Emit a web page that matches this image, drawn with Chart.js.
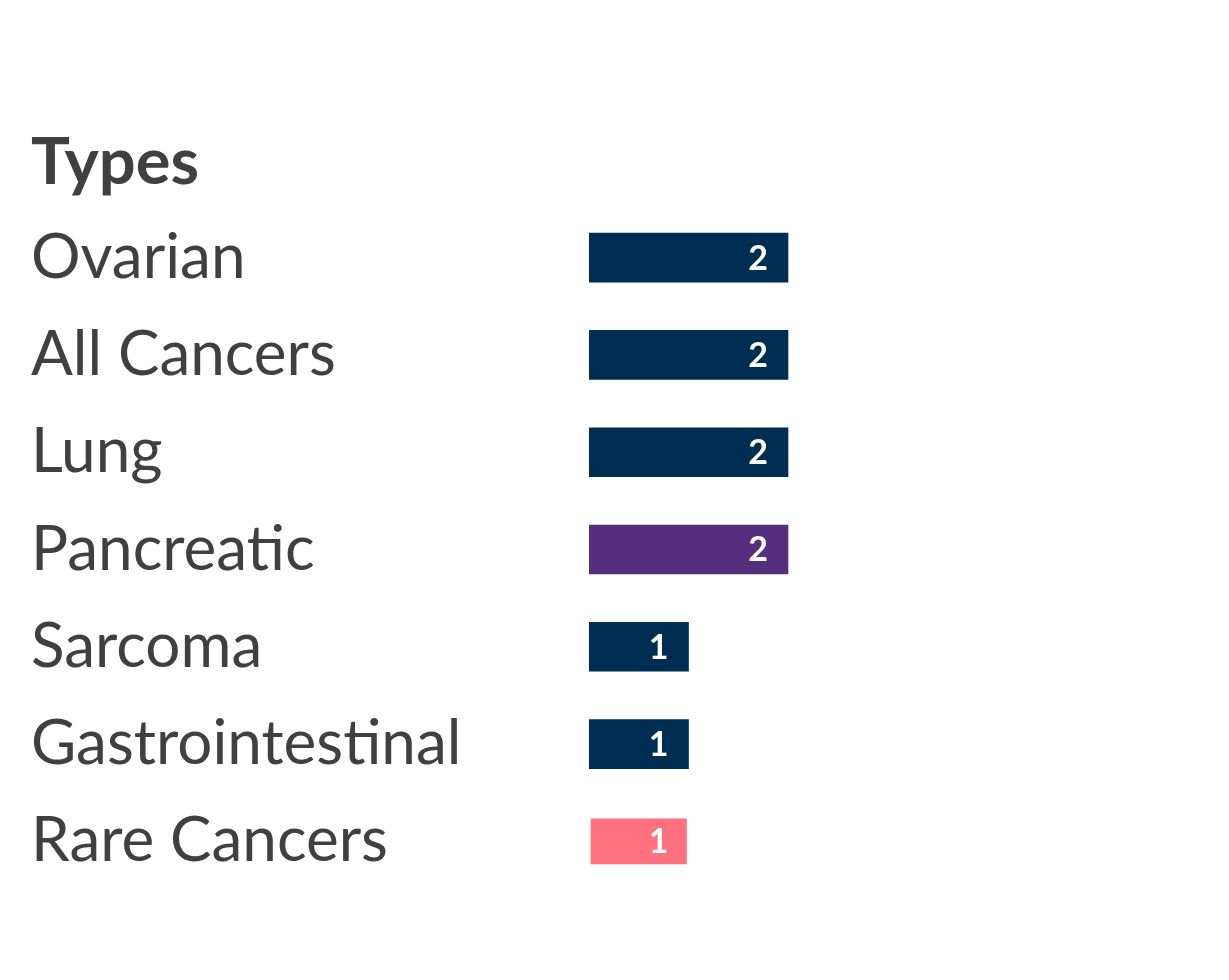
<!DOCTYPE html>
<html>
<head>
<meta charset="utf-8">
<script src="https://cdn.jsdelivr.net/npm/chart.js@4"></script>
<style>
  html, body { margin: 0; padding: 0; background: #fff; }
  #wrap { width: 1229px; height: 980px; }
</style>
</head>
<body>
<div id="wrap"><canvas id="ChartCanvas"></canvas></div>
<script>
// Chart data
const categories = ['Ovarian', 'All Cancers', 'Lung', 'Pancreatic', 'Sarcoma', 'Gastrointestinal', 'Rare Cancers'];
const counts = [2, 2, 2, 2, 1, 1, 1];
const barColors = ['#002d52', '#002d52', '#002d52', '#552f7e', '#002d52', '#002d52', '#ff717f'];
const borderWidths = [0, 0, 0, 0, 0, 0, 2];

const textColor = '#404042';

// draws the count inside the end of each bar
const valueLabels = {
    id: 'valueLabels',
    afterDatasetsDraw(chart) {
        const ctx = chart.ctx;
        const meta = chart.getDatasetMeta(0);
        ctx.save();
        ctx.font = 'bold 34px Lato';
        ctx.fillStyle = '#ffffff';
        ctx.textAlign = 'right';
        ctx.textBaseline = 'middle';
        meta.data.forEach(function(bar, i) {
            ctx.fillText(String(counts[i]), bar.x - 20, bar.y + 1);
        });
        ctx.restore();
    }
};

const config = {
    type: 'bar',
    data: {
        labels: categories,
        datasets: [{
            data: counts,
            backgroundColor: barColors,
            borderColor: '#ffffff',
            borderWidth: borderWidths,
            borderSkipped: false,
            barThickness: 49
        }]
    },
    options: {
        indexAxis: 'y',
        responsive: true,
        maintainAspectRatio: false,
        animation: false,
        layout: { padding: { left: 31, right: 43, top: 0, bottom: 90 } },
        plugins: {
            legend: { display: false },
            tooltip: { enabled: false },
            title: {
                display: true,
                text: 'Types',
                align: 'start',
                color: textColor,
                font: { family: 'Lato', size: 65, weight: 'bold' },
                padding: { top: 124, bottom: 7 }
            }
        },
        scales: {
            x: {
                min: 0,
                max: 6,
                display: false,
                grid: { display: false }
            },
            y: {
                grid: { display: false },
                border: { display: false },
                afterFit: function(scale) { scale.width = 558; },
                ticks: {
                    crossAlign: 'far',
                    color: textColor,
                    font: { family: 'Lato', size: 62 }
                }
            }
        }
    },
    plugins: [valueLabels]
};

new Chart(document.getElementById('ChartCanvas'), config);
</script>
</body>
</html>
